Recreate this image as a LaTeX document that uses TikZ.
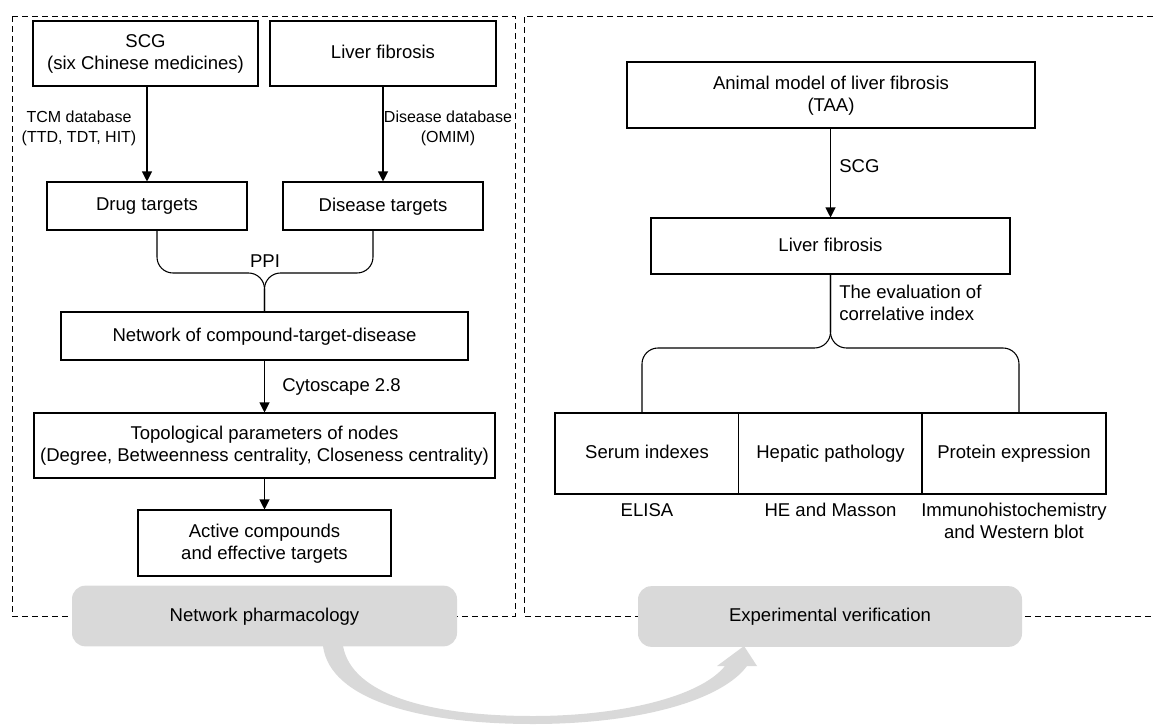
\documentclass[tikz,border=0pt]{standalone}
\usepackage{fontspec}
\setmainfont{Liberation Sans}
\usetikzlibrary{arrows.meta}
\definecolor{boxgray}{HTML}{D9D9D9}
\tikzset{
	box/.style = {
		draw=black,
		line width=0.8pt,
		fill=white,
		align=center,
		inner sep=0pt,
		text depth=0.21em,
		font=\fontsize{13.9}{16.5}\selectfont
	},
	box_gray/.style = {
		box,
		draw=none,
		fill=boxgray,
		rounded corners=10pt,
		minimum height=45.5pt
	},
	lbl/.style = {
		align=center,
		inner sep=0pt,
		text depth=0.21em,
		font=\fontsize{13.9}{16.5}\selectfont
	},
	lbl_small/.style = {
		lbl,
		font=\fontsize{12}{15}\selectfont
	},
	panel/.style = {
		line width=0.75pt,
		dash pattern=on 4.5pt off 3pt
	},
	brace/.style = {
		line width=0.8pt,
		rounded corners=12pt
	}
}

\begin{document}
\begin{tikzpicture}[x=0.75pt, y=-0.75pt, >={Triangle[length=7.5pt,width=7.5pt]}, conn/.style={->, line width=0.8pt}]
\useasboundingbox (0,0) rectangle (1153,725);

% panels
\draw[panel] (12,16) rectangle (515,616);
\draw[panel] (1153,16) -- (524,16) -- (524,616) -- (1153,616);

% network pharmacology
\node [box, minimum width=168.75pt, minimum height=48.75pt] (scg) at (145.5,53.5) {SCG\\(six Chinese medicines)};
\node [box, minimum width=169.5pt, minimum height=48.75pt] (lf) at (383,53.5) {Liver fibrosis};
\node [box, minimum width=150pt, minimum height=36pt] (drug) at (147,206) {Drug targets};
\node [box, minimum width=150pt, minimum height=36pt] (dis) at (383,206) {Disease targets};
\node [box, minimum width=305.25pt, minimum height=36pt] (net) at (264.5,336) {Network of compound-target-disease};
\node [box, minimum width=345.75pt, minimum height=48.75pt] (topo) at (264.5,445.5) {Topological parameters of nodes\\(Degree, Betweenness centrality, Closeness centrality)};
\node [box, minimum width=189.75pt, minimum height=49.5pt] (act) at (264.5,543) {Active compounds\\and effective targets};

\node [lbl_small] (tcm_lbl) at (79,128) {TCM database\\(TTD, TDT, HIT)};
\node [lbl_small] (dis_lbl) at (448,128) {Disease database\\(OMIM)};
\node [lbl] (ppi_lbl) at (265,263) {PPI};
\node [lbl, anchor=west] (cyto_lbl) at (282,386) {Cytoscape 2.8};

\coordinate (lbL) at (157,273);
\coordinate (lbR) at (373,273);

\draw[conn] (drug.north |- scg.south) -- (drug.north);
\draw[conn] (lf.south) -- (dis.north);
\draw[brace] (drug.south -| lbL) -- (lbL) -- (lbL -| net.north) -- (net.north);
\draw[brace] (dis.south -| lbR) -- (lbR) -- (lbR -| net.north) -- (net.north);
\draw[conn] (net.south) -- (topo.north);
\draw[conn] (topo.south) -- (act.north);

% experimental verification
\node [box, minimum width=306pt, minimum height=49.5pt] (animal) at (831,95) {Animal model of liver fibrosis\\(TAA)};
\node [box, minimum width=269.25pt, minimum height=42pt] (lfr) at (830.5,246) {Liver fibrosis};
\node [box, minimum width=138pt, minimum height=60.75pt] (serum) at (647,453.5) {Serum indexes};
\node [box, minimum width=138pt, minimum height=60.75pt] (hep) at (830.5,453.5) {Hepatic pathology};
\node [box, minimum width=138pt, minimum height=60.75pt] (prot) at (1014,453.5) {Protein expression};

\node [lbl, anchor=west] (scg_lbl) at (839,167) {SCG};
\node [lbl, anchor=west, align=left] (eval_lbl) at (839,304) {The evaluation of\\correlative index};
\node [lbl] (elisa_lbl) at (647,511) {ELISA};
\node [lbl] (he_lbl) at (830.5,511) {HE and Masson};
\node [lbl] (immuno_lbl) at (1014,522) {Immunohistochemistry\\and Western blot};

\coordinate (rbL) at (642,348);
\coordinate (rbR) at (1019,348);

\draw[conn] (lfr.north |- animal.south) -- (lfr.north);
\draw[brace] (lfr.south) -- (lfr.south |- rbL) -- (rbL) -- (rbL |- serum.north);
\draw[brace] (lfr.south) -- (lfr.south |- rbR) -- (rbR) -- (rbR |- prot.north);

% flow arrow
\fill[boxgray] (323,646) .. controls (330,700) and (420,724) .. (533,724) .. controls (640,724) and (722,700) .. (747,666) -- (757,666) -- (744,646) -- (717,666) -- (725,666) .. controls (700,697) and (620,716) .. (533,716) .. controls (430,716) and (352,695) .. (343,646) -- cycle;

\node [box_gray, minimum width=288.75pt] (np) at (264.5,616) {Network pharmacology};
\node [box_gray, minimum width=288pt] (ev) at (830,616.5) {Experimental verification};
\end{tikzpicture}
\end{document}
